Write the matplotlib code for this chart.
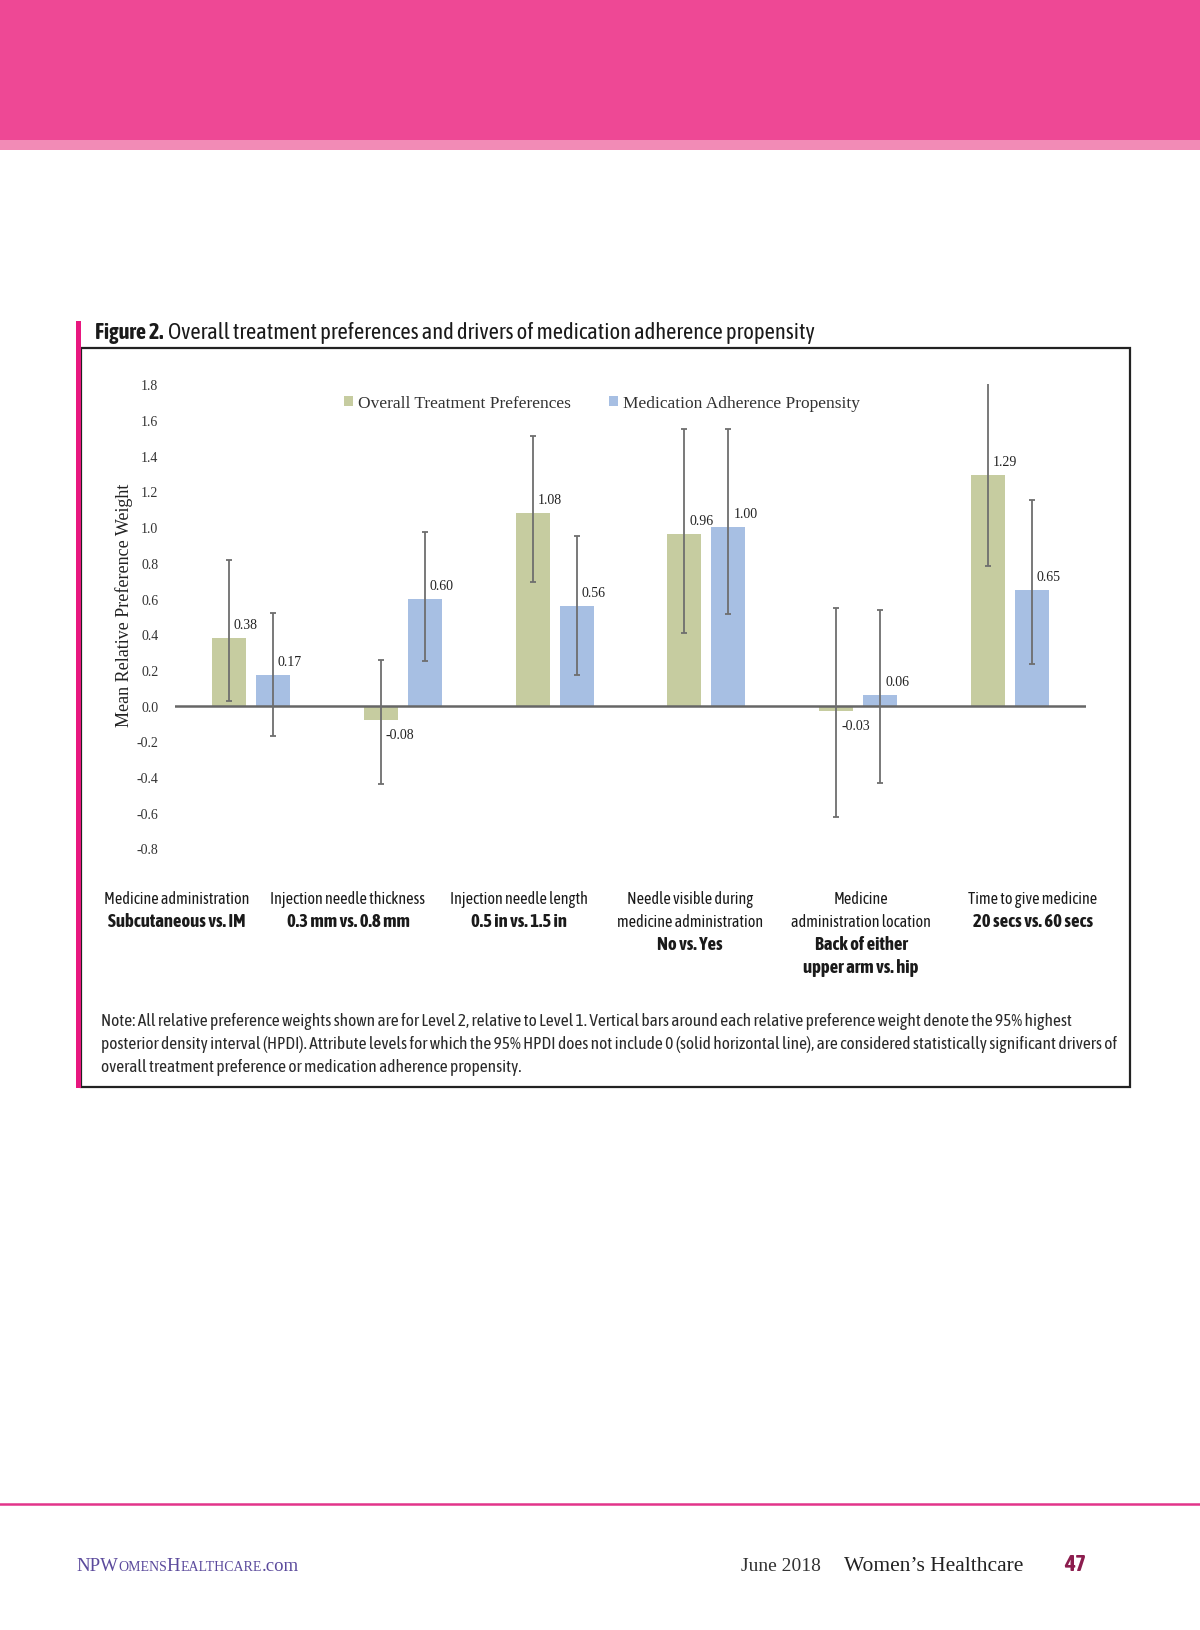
import matplotlib.pyplot as plt
import matplotlib.patches as mpatches
from matplotlib import font_manager
import numpy as np

# data
categories = ["Medicine administration", "Injection needle thickness", "Injection needle length",
              "Needle visible during medicine administration", "Medicine administration location",
              "Time to give medicine"]
cat_lines = [["Medicine administration"], ["Injection needle thickness"], ["Injection needle length"],
             ["Needle visible during", "medicine administration"], ["Medicine", "administration location"],
             ["Time to give medicine"]]
cat_bold = [["Subcutaneous vs. IM"], ["0.3 mm vs. 0.8 mm"], ["0.5 in vs. 1.5 in"],
            ["No vs. Yes"], ["Back of either", "upper arm vs. hip"], ["20 secs vs. 60 secs"]]

overall = [0.38, -0.08, 1.08, 0.96, -0.03, 1.29]
overall_lo = [0.025, -0.44, 0.695, 0.405, -0.625, 0.785]
overall_hi = [0.816, 0.258, 1.513, 1.548, 0.549, 1.806]

adherence = [0.17, 0.60, 0.56, 1.00, 0.06, 0.65]
adherence_lo = [-0.168, 0.252, 0.172, 0.514, -0.431, 0.235]
adherence_hi = [0.521, 0.975, 0.949, 1.548, 0.538, 1.152]

yticks = [-0.8, -0.6, -0.4, -0.2, 0.0, 0.2, 0.4, 0.6, 0.8, 1.0, 1.2, 1.4, 1.6, 1.8]

note_lines = [
    "Note: All relative preference weights shown are for Level 2, relative to Level 1. Vertical bars around each relative preference weight denote the 95% highest",
    "posterior density interval (HPDI). Attribute levels for which the 95% HPDI does not include 0 (solid horizontal line), are considered statistically significant drivers of",
    "overall treatment preference or medication adherence propensity.",
]

W, H = 1200, 1631
def fx(px):
    return px / W
def fy(py):
    return 1 - py / H

green = "#c6cca0"
blue = "#a7bfe3"
errc = "#6e6e6e"
serif = "Liberation Serif"

# pick a narrow sans if one is around (one with a bold cut for the bold parts)
def wnum(w):
    if isinstance(w, str):
        return font_manager.weight_dict.get(w, 400)
    return w

cands = {}
for f in font_manager.fontManager.ttflist:
    if "Narrow" in f.name or "Condensed" in f.name:
        cands.setdefault(f.name, set()).add(wnum(f.weight))
reg_name = None
bold_name = None
for name, ws in sorted(cands.items()):
    if min(ws) <= 500 and reg_name is None:
        reg_name = name
    if max(ws) >= 600 and bold_name is None:
        bold_name = name
for name, ws in sorted(cands.items()):
    if min(ws) <= 500 and max(ws) >= 600:
        reg_name = name
        bold_name = name
        break
nfam = [reg_name or "Roboto", "DejaVu Sans"]
bfam = [bold_name or "Roboto", "DejaVu Sans"]

fig = plt.figure(figsize=(12, 16.31), dpi=100)
r = fig.canvas.get_renderer()

def fit_size(s, target, fam, weight="normal", base=12):
    tt = fig.text(0, 0, s, fontsize=base, family=fam, fontweight=weight)
    w = tt.get_window_extent(r).width
    tt.remove()
    return base * target / w

cat_size = fit_size("Medicine administration", 145, nfam)
catb_size = fit_size("Subcutaneous vs. IM", 137, bfam, "bold")
note_size = fit_size(note_lines[0], 972, nfam)
title_size = fit_size("Overall treatment preferences and drivers of medication adherence propensity", 646, nfam)
titleb_size = fit_size("Figure 2.", 68, bfam, "bold")
num_size = fit_size("47", 22, bfam, weight="bold")

# page decoration
fig.patches.append(mpatches.Rectangle((0, fy(140.7)), 1, 140.7 / H, transform=fig.transFigure,
                                      facecolor="#ee4895", edgecolor="none"))
fig.patches.append(mpatches.Rectangle((0, fy(151)), 1, 10.3 / H, transform=fig.transFigure,
                                      facecolor="#f28bb6", edgecolor="none"))
fig.patches.append(mpatches.Rectangle((fx(81), fy(1088)), fx(1130 - 81), (1088 - 349) / H,
                                      transform=fig.transFigure, facecolor="none",
                                      edgecolor="#222222", linewidth=1.6))
fig.patches.append(mpatches.Rectangle((fx(75.5), fy(1089)), fx(5.5), (1089 - 322) / H,
                                      transform=fig.transFigure, facecolor="#e8177f", edgecolor="none"))
fig.lines.append(plt.Line2D([0, 1], [fy(1505), fy(1505)], transform=fig.transFigure,
                            color="#e2348a", linewidth=1.8))

# title
t = fig.text(fx(95), fy(333), "Figure 2.", fontsize=titleb_size, fontweight="bold", family=bfam,
             va="center", ha="left", color="#1a1a1a")
bb = t.get_window_extent(r)
fig.text(bb.x1 / W + fx(5), fy(333), "Overall treatment preferences and drivers of medication adherence propensity",
         fontsize=title_size, family=nfam, va="center", ha="left", color="#1a1a1a")

# chart
ax = fig.add_axes([fx(175), fy(849.5), fx(1086 - 175), (849.5 - 385.4) / H])
x = np.arange(len(categories))
bw = 0.224
off = 0.145
ov = np.array(overall)
ad = np.array(adherence)
err_o = [ov - np.array(overall_lo), np.array(overall_hi) - ov]
err_a = [ad - np.array(adherence_lo), np.array(adherence_hi) - ad]

ax.bar(x - off, ov, bw, color=green, label="Overall Treatment Preferences", zorder=2)
ax.bar(x + off, ad, bw, color=blue, label="Medication Adherence Propensity", zorder=2)
ax.errorbar(x - off, ov, yerr=err_o, fmt="none", ecolor=errc, elinewidth=1.3, capsize=2.5,
            capthick=1.3, zorder=4)
ax.errorbar(x + off, ad, yerr=err_a, fmt="none", ecolor=errc, elinewidth=1.3, capsize=2.5,
            capthick=1.3, zorder=4)
ax.axhline(0, color="#666666", linewidth=1.8, zorder=3)

for xs, vals in [(x - off, ov), (x + off, ad)]:
    for xi, v in zip(xs, vals):
        if v >= 0:
            ax.annotate(f"{v:.2f}", (xi, v), xytext=(3.5, 5), textcoords="offset points",
                        ha="left", va="bottom", fontsize=10, family=serif, color="#222222")
        else:
            ax.annotate(f"{v:.2f}", (xi, v), xytext=(3.5, -5.5), textcoords="offset points",
                        ha="left", va="top", fontsize=10, family=serif, color="#222222")

ax.set_xlim(-0.5, 5.5)
ax.set_ylim(-0.8, 1.8)
ax.set_yticks(yticks)
ax.set_yticklabels([f"{v:.1f}" for v in yticks], family=serif, fontsize=10, color="#333333")
ax.tick_params(axis="y", length=0, pad=12)
ax.set_xticks([])
for s in ax.spines.values():
    s.set_visible(False)

fig.text(fx(124), fy(605), "Mean Relative Preference Weight", rotation=90, ha="center", va="center",
         family=serif, fontsize=13, color="#222222")

leg = ax.legend(loc="center", bbox_to_anchor=(fx(602), fy(404)), bbox_transform=fig.transFigure,
                ncol=2, frameon=False, prop={"family": serif, "size": 12.5},
                handlelength=0.5, handleheight=0.5, handletextpad=0.3, columnspacing=2.2)
for txt in leg.get_texts():
    txt.set_color("#333333")

# category labels under the chart
cat_x = [177, 348, 519, 690, 861, 1033]
for cx, reg, bold in zip(cat_x, cat_lines, cat_bold):
    yy = 899.6
    for line in reg:
        fig.text(fx(cx), fy(yy), line, ha="center", va="center", fontsize=cat_size, family=nfam,
                 color="#1a1a1a")
        yy += 22.8
    for line in bold:
        fig.text(fx(cx), fy(yy), line, ha="center", va="center", fontsize=catb_size, fontweight="bold",
                 family=bfam, color="#1a1a1a")
        yy += 22.8

for i, line in enumerate(note_lines):
    fig.text(fx(101), fy(1022 + i * 22.5), line, ha="left", va="center", fontsize=note_size, family=nfam,
             color="#2a2a2a")

# footer
def run(pieces, x0, y0):
    xpos = x0
    for txt, size in pieces:
        tt = fig.text(fx(xpos), fy(y0), txt, ha="left", va="baseline", fontsize=size, color="#5b4a9c",
                      family=serif)
        xpos += tt.get_window_extent(r).width

run([("NPW", 13.5), ("OMENS", 10), ("H", 13.5), ("EALTHCARE", 10), (".com", 13.5)], 76, 1571)
fig.text(fx(741), fy(1571), "June 2018", ha="left", va="baseline", fontsize=14, family=serif, color="#333333")
fig.text(fx(844), fy(1571), "Women\u2019s Healthcare", ha="left", va="baseline", fontsize=15.5, family=serif,
         color="#222222")
fig.text(fx(1064), fy(1571), "47", ha="left", va="baseline", fontsize=num_size, fontweight="bold", family=bfam,
         color="#8c1d4e")

fig.savefig("out.png", dpi=100)
